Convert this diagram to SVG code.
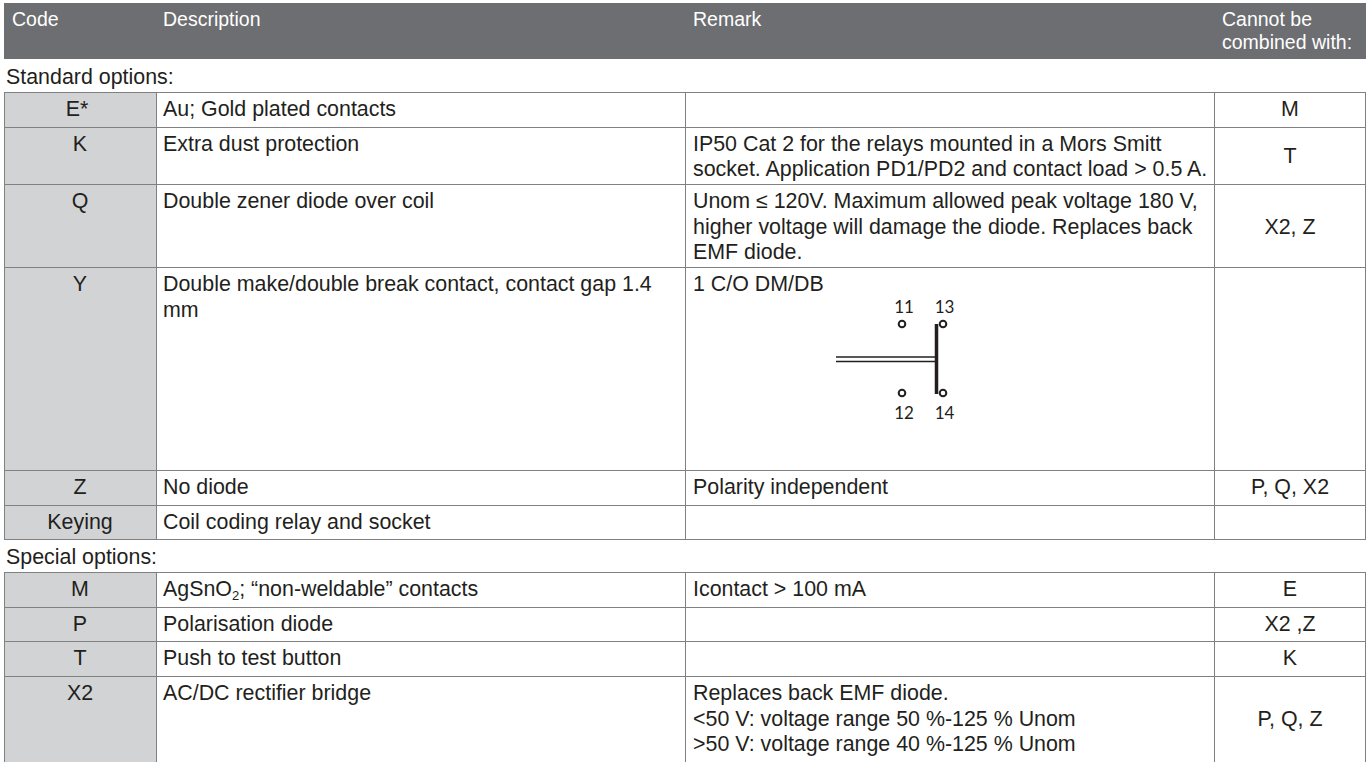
<svg xmlns="http://www.w3.org/2000/svg" width="1371" height="762" viewBox="0 0 1371 762">
<style>
text{font-family:"Liberation Sans",Arial,sans-serif;font-size:21.4px;fill:#231f20}
.h{fill:#ffffff;font-size:19.5px}
.m{text-anchor:middle}
.code{fill:#d1d3d4;stroke:#808080;stroke-width:1}
.cell{fill:#ffffff;stroke:#808080;stroke-width:1}
.pin{fill:#ffffff;stroke:#231f20;stroke-width:2}
.num{font-family:Lato,"Noto Sans",sans-serif;font-size:17px;fill:#231f20;text-anchor:middle}
</style>
<rect width="1371" height="762" fill="#ffffff"/>
<g id="header">
<rect x="4" y="3" width="1362" height="56" fill="#6d6e71"/>
<text class="h" x="12" y="26">Code</text>
<text class="h" x="163" y="26">Description</text>
<text class="h" x="693" y="26">Remark</text>
<text class="h" x="1222" y="26">Cannot be</text>
<text class="h" x="1222" y="49">combined with:</text>
</g>
<text id="standard-label" x="6" y="84">Standard options:</text>
<g id="row-E">
<rect class="code" x="4.5" y="92.5" width="152" height="35"/>
<rect class="cell" x="156.5" y="92.5" width="529" height="35"/>
<rect class="cell" x="685.5" y="92.5" width="529" height="35"/>
<rect class="cell" x="1214.5" y="92.5" width="151" height="35"/>
<text class="m" x="77" y="116">E*</text>
<text x="163" y="116">Au; Gold plated contacts</text>
<text class="m" x="1290" y="116">M</text>
</g>
<g id="row-K">
<rect class="code" x="4.5" y="127.5" width="152" height="57"/>
<rect class="cell" x="156.5" y="127.5" width="529" height="57"/>
<rect class="cell" x="685.5" y="127.5" width="529" height="57"/>
<rect class="cell" x="1214.5" y="127.5" width="151" height="57"/>
<text class="m" x="80" y="151">K</text>
<text x="163" y="151">Extra dust protection</text>
<text x="693" y="151">IP50 Cat 2 for the relays mounted in a Mors Smitt</text>
<text x="693" y="176">socket. Application PD1/PD2 and contact load &gt; 0.5 A.</text>
<text class="m" x="1290" y="163">T</text>
</g>
<g id="row-Q">
<rect class="code" x="4.5" y="184.5" width="152" height="83"/>
<rect class="cell" x="156.5" y="184.5" width="529" height="83"/>
<rect class="cell" x="685.5" y="184.5" width="529" height="83"/>
<rect class="cell" x="1214.5" y="184.5" width="151" height="83"/>
<text class="m" x="80" y="208">Q</text>
<text x="163" y="208">Double zener diode over coil</text>
<text x="693" y="208">Unom ≤ 120V. Maximum allowed peak voltage 180 V,</text>
<text x="693" y="233.5">higher voltage will damage the diode. Replaces back</text>
<text x="693" y="259">EMF diode.</text>
<text class="m" x="1290" y="233.5">X2, Z</text>
</g>
<g id="row-Y">
<rect class="code" x="4.5" y="267.5" width="152" height="203"/>
<rect class="cell" x="156.5" y="267.5" width="529" height="203"/>
<rect class="cell" x="685.5" y="267.5" width="529" height="203"/>
<rect class="cell" x="1214.5" y="267.5" width="151" height="203"/>
<text class="m" x="80" y="291">Y</text>
<text x="163" y="291">Double make/double break contact, contact gap 1.4</text>
<text x="163" y="316.5">mm</text>
<text x="693" y="291">1 C/O DM/DB</text>
<g id="contact-diagram">
<line x1="836" y1="357" x2="936" y2="357" stroke="#231f20" stroke-width="1.6"/>
<line x1="836" y1="361.5" x2="936" y2="361.5" stroke="#231f20" stroke-width="1.6"/>
<line x1="936.5" y1="324" x2="936.5" y2="394" stroke="#231f20" stroke-width="3.5"/>
<circle class="pin" cx="902" cy="324" r="3.3"/>
<circle class="pin" cx="943" cy="324" r="3.3"/>
<circle class="pin" cx="902" cy="393" r="3.3"/>
<circle class="pin" cx="943" cy="393" r="3.3"/>
<text class="num" x="904" y="313">11</text>
<text class="num" x="944.5" y="313">13</text>
<text class="num" x="904" y="419">12</text>
<text class="num" x="944.5" y="419">14</text>
</g>
</g>
<g id="row-Z">
<rect class="code" x="4.5" y="470.5" width="152" height="35"/>
<rect class="cell" x="156.5" y="470.5" width="529" height="35"/>
<rect class="cell" x="685.5" y="470.5" width="529" height="35"/>
<rect class="cell" x="1214.5" y="470.5" width="151" height="35"/>
<text class="m" x="80" y="494">Z</text>
<text x="163" y="494">No diode</text>
<text x="693" y="494">Polarity independent</text>
<text class="m" x="1290" y="494">P, Q, X2</text>
</g>
<g id="row-Keying">
<rect class="code" x="4.5" y="505.5" width="152" height="34"/>
<rect class="cell" x="156.5" y="505.5" width="529" height="34"/>
<rect class="cell" x="685.5" y="505.5" width="529" height="34"/>
<rect class="cell" x="1214.5" y="505.5" width="151" height="34"/>
<text class="m" x="80" y="529">Keying</text>
<text x="163" y="529">Coil coding relay and socket</text>
</g>
<text id="special-label" x="6" y="564">Special options:</text>
<g id="row-M">
<rect class="code" x="4.5" y="572.5" width="152" height="35"/>
<rect class="cell" x="156.5" y="572.5" width="529" height="35"/>
<rect class="cell" x="685.5" y="572.5" width="529" height="35"/>
<rect class="cell" x="1214.5" y="572.5" width="151" height="35"/>
<text class="m" x="80" y="596">M</text>
<text x="163" y="596">AgSnO<tspan font-size="13" dy="4">2</tspan><tspan dy="-4">; “non-weldable” contacts</tspan></text>
<text x="693" y="596">Icontact &gt; 100 mA</text>
<text class="m" x="1290" y="596">E</text>
</g>
<g id="row-P">
<rect class="code" x="4.5" y="607.5" width="152" height="34"/>
<rect class="cell" x="156.5" y="607.5" width="529" height="34"/>
<rect class="cell" x="685.5" y="607.5" width="529" height="34"/>
<rect class="cell" x="1214.5" y="607.5" width="151" height="34"/>
<text class="m" x="80" y="631">P</text>
<text x="163" y="631">Polarisation diode</text>
<text class="m" x="1290" y="631">X2 ,Z</text>
</g>
<g id="row-T">
<rect class="code" x="4.5" y="641.5" width="152" height="35"/>
<rect class="cell" x="156.5" y="641.5" width="529" height="35"/>
<rect class="cell" x="685.5" y="641.5" width="529" height="35"/>
<rect class="cell" x="1214.5" y="641.5" width="151" height="35"/>
<text class="m" x="80" y="665">T</text>
<text x="163" y="665">Push to test button</text>
<text class="m" x="1290" y="665">K</text>
</g>
<g id="row-X2">
<rect class="code" x="4.5" y="676.5" width="152" height="100"/>
<rect class="cell" x="156.5" y="676.5" width="529" height="100"/>
<rect class="cell" x="685.5" y="676.5" width="529" height="100"/>
<rect class="cell" x="1214.5" y="676.5" width="151" height="100"/>
<text class="m" x="80" y="700">X2</text>
<text x="163" y="700">AC/DC rectifier bridge</text>
<text x="693" y="700">Replaces back EMF diode.</text>
<text x="693" y="725.5">&lt;50 V: voltage range 50 %-125 % Unom</text>
<text x="693" y="751">&gt;50 V: voltage range 40 %-125 % Unom</text>
<text class="m" x="1290" y="725.5">P, Q, Z</text>
</g>
</svg>
